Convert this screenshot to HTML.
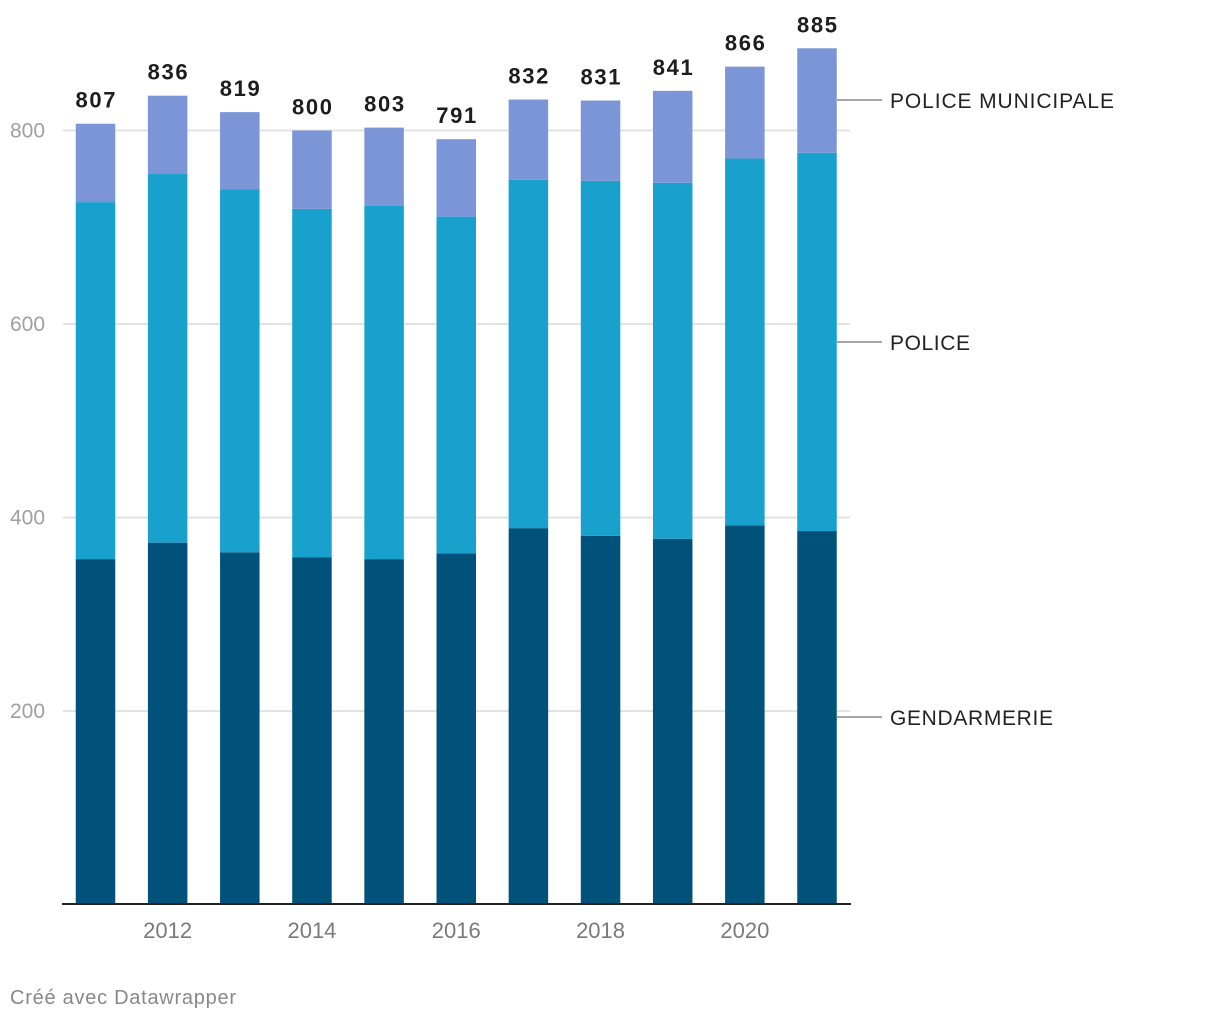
<!DOCTYPE html>
<html><head><meta charset="utf-8"><style>
html,body{margin:0;padding:0;background:#fff;}
svg{display:block;font-family:"Liberation Sans",sans-serif;}
</style></head><body>
<svg id="chart" width="1220" height="1020" viewBox="0 0 1220 1020" xmlns="http://www.w3.org/2000/svg">
<g id="grid"></g>
<g id="bars"></g>
<g id="labels"></g>
<g id="xaxis"></g>
<g id="legend"></g>
<text x="10" y="1004" font-size="20" textLength="226" fill="#888">Créé avec Datawrapper</text>
</svg>
<script>
const years = [2011,2012,2013,2014,2015,2016,2017,2018,2019,2020,2021];
const gendarmerie = [357,374,364,359,357,363,389,381,378,392,386];
const police = [369,381,375,360,365,348,360,367,368,379,391];
const municipale = [81,81,80,81,81,80,83,83,95,95,108];
const totals = [807,836,819,800,803,791,832,831,841,866,885];
const yTicks = [200,400,600,800];
const xTickYears = [2012,2014,2016,2018,2020];

const NS="http://www.w3.org/2000/svg";
const y0=904.5, pxPer=0.9675;
const yScale=v=>y0-v*pxPer;
const x0=95.5, step=72.15, bw=39.5;
const xScale=i=>x0+i*step;
function mk(tag,attrs,parent){const e=document.createElementNS(NS,tag);for(const k in attrs)e.setAttribute(k,attrs[k]);parent.appendChild(e);return e;}
const grid=document.getElementById('grid'),bars=document.getElementById('bars'),labels=document.getElementById('labels'),xaxis=document.getElementById('xaxis'),legend=document.getElementById('legend');

yTicks.forEach(t=>{
  const l=mk('line',{x1:63,x2:850,y1:yScale(t),y2:yScale(t),stroke:'#e3e3e3','stroke-width':2},grid);
  
  
  const tx=mk('text',{x:10,y:yScale(t)+7,'font-size':21,fill:'#a0a0a0'},grid);
  tx.textContent=t;
  
  
});

const series=[[gendarmerie,'#00527a','gendarmerie'],[police,'#18a1cd','police'],[municipale,'#7c95d6','police-municipale']];
years.forEach((yr,i)=>{
  let cum=0;
  series.forEach(([arr,col,nm])=>{
    const top=yScale(cum+arr[i]), bot=yScale(cum);
    const r=mk('rect',{x:xScale(i)-bw/2,y:top,width:bw,height:bot-top,fill:col},bars);
    
    
    cum+=arr[i];
  });
  const t=mk('text',{x:xScale(i),y:yScale(totals[i])-16,'font-size':22,'font-weight':'bold',fill:'#1d1d1d','text-anchor':'middle',textLength:40},labels);
  t.textContent=totals[i];
  
  
});

const ax=mk('line',{x1:62,x2:851,y1:904,y2:904,stroke:'#222','stroke-width':2},xaxis);


xTickYears.forEach(yr=>{
  const i=years.indexOf(yr);
  const t=mk('text',{x:xScale(i),y:938,'font-size':22,fill:'#7a7a7a','text-anchor':'middle'},xaxis);
  t.textContent=yr;
  
  
});

const legendItems=[['POLICE MUNICIPALE',100,224],['POLICE',342,80],['GENDARMERIE',717,163]];
legendItems.forEach(([name,y,w])=>{
  const l=mk('line',{x1:837,x2:882,y1:y,y2:y,stroke:'#888','stroke-width':1.5},legend);
  
  
  const t=mk('text',{x:890,y:y+8,'font-size':21,fill:'#222',textLength:w},legend);
  t.textContent=name;
  
  
});
</script>
</body></html>
